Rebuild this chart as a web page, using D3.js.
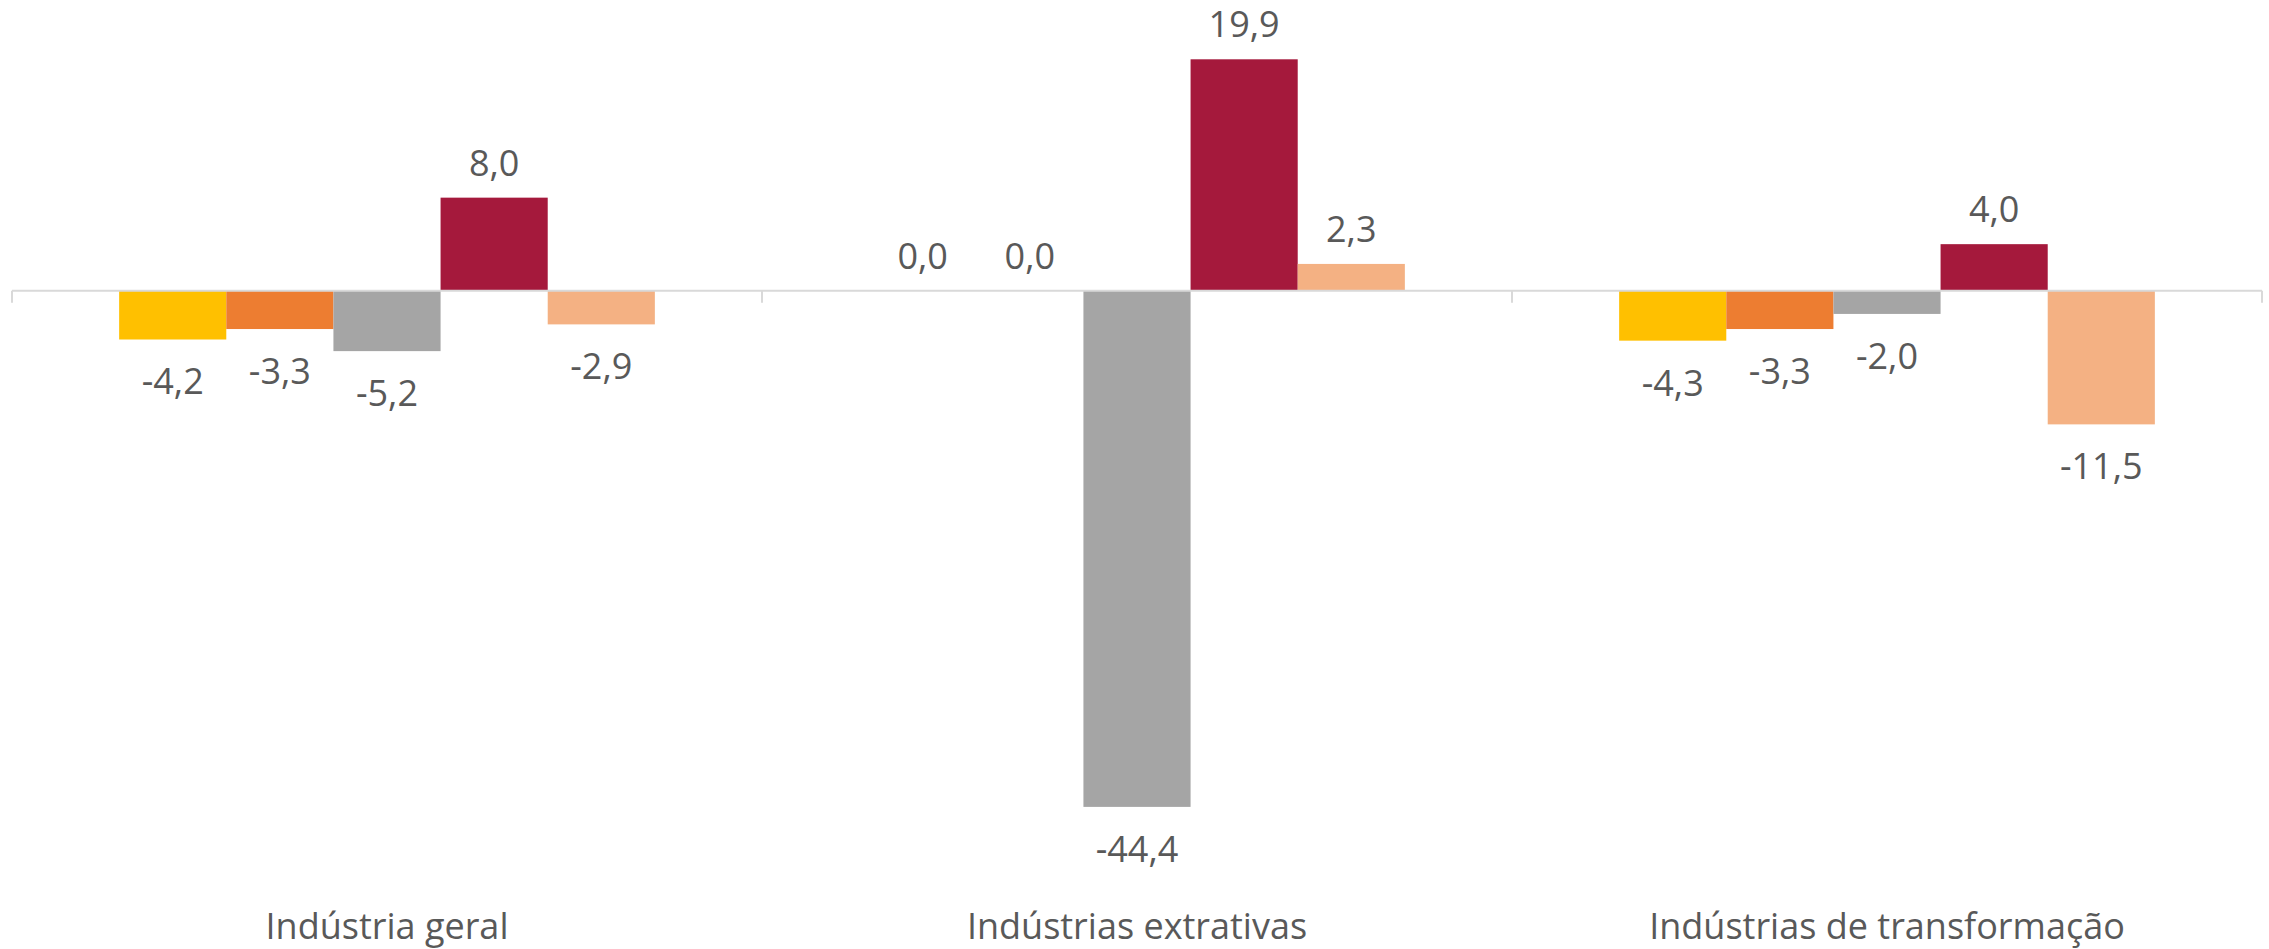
<!DOCTYPE html>
<html>
<head>
<meta charset="utf-8">
<script src="https://cdn.jsdelivr.net/npm/d3@7"></script>
<style>
  body { margin: 0; background: #fff; }
  text { font-family: "Open Sans", sans-serif; fill: #595959; }
</style>
</head>
<body>
<div class="chart"></div>
<script>
// categories and the five series (one value per category)
var categories = ["Indústria geral", "Indústrias extrativas", "Indústrias de transformação"];
var seriesNames = ["Série 1", "Série 2", "Série 3", "Série 4", "Série 5"];
var serie1 = [-4.2, 0.0, -4.3];
var serie2 = [-3.3, 0.0, -3.3];
var serie3 = [-5.2, -44.4, -2.0];
var serie4 = [8.0, 19.9, 4.0];
var serie5 = [-2.9, 2.3, -11.5];
var colors = ["#FFC000", "#ED7D31", "#A5A5A5", "#A5193C", "#F4B183"];

var svg_width = 2269, svg_height = 949;
var left = 12, right = 2262, top_ = 0, bottom = 872;

var allSeries = [serie1, serie2, serie3, serie4, serie5];
var data = [];
categories.forEach(function (c, i) {
    allSeries.forEach(function (s, j) {
        data.push({ cat: c, serie: seriesNames[j], value: s[i], color: colors[j] });
    });
});

var svg = d3.select(".chart")
    .append("svg")
    .attr("width", svg_width)
    .attr("height", svg_height);

var x0 = d3.scaleBand()
    .domain(categories)
    .range([left, right]);

var bw = x0.bandwidth();
var x1 = d3.scaleBand()
    .domain(seriesNames)
    .range([bw / 7, bw * 6 / 7]);

var y = d3.scaleLinear()
    .domain([-50, 25])
    .range([bottom, top_]);

// bars
svg.selectAll(".bar")
    .data(data)
    .enter()
    .append("rect")
    .attr("class", "bar")
    .attr("x", function (d) { return x0(d.cat) + x1(d.serie); })
    .attr("width", x1.bandwidth())
    .attr("y", function (d) { return y(Math.max(0, d.value)); })
    .attr("height", function (d) { return Math.abs(y(d.value) - y(0)); })
    .attr("fill", function (d) { return d.color; });

// zero axis line with tick marks between categories
var axis = svg.append("g")
    .attr("transform", "translate(0," + y(0) + ")");
axis.append("line")
    .attr("x1", left).attr("x2", right)
    .attr("stroke", "#D9D9D9").attr("stroke-width", 2);
axis.selectAll(".tick")
    .data(categories.concat([null]))
    .enter()
    .append("line")
    .attr("x1", function (d, i) { return left + i * bw; })
    .attr("x2", function (d, i) { return left + i * bw; })
    .attr("y1", 0).attr("y2", 12)
    .attr("stroke", "#D9D9D9").attr("stroke-width", 2);

// data labels
svg.selectAll(".label")
    .data(data)
    .enter()
    .append("text")
    .attr("class", "label")
    .attr("text-anchor", "middle")
    .attr("font-size", 36)
    .attr("x", function (d) { return x0(d.cat) + x1(d.serie) + x1.bandwidth() / 2; })
    .attr("y", function (d) {
        return d.value < 0 ? y(d.value) + 55 : y(d.value) - 22;
    })
    .text(function (d) { return d3.format(".1f")(d.value).replace(".", ",").replace("−", "-"); });

// category labels
svg.selectAll(".cat")
    .data(categories)
    .enter()
    .append("text")
    .attr("class", "cat")
    .attr("text-anchor", "middle")
    .attr("font-size", 36)
    .attr("x", function (d) { return x0(d) + bw / 2; })
    .attr("y", 939)
    .text(function (d) { return d; });
</script>
</body>
</html>
